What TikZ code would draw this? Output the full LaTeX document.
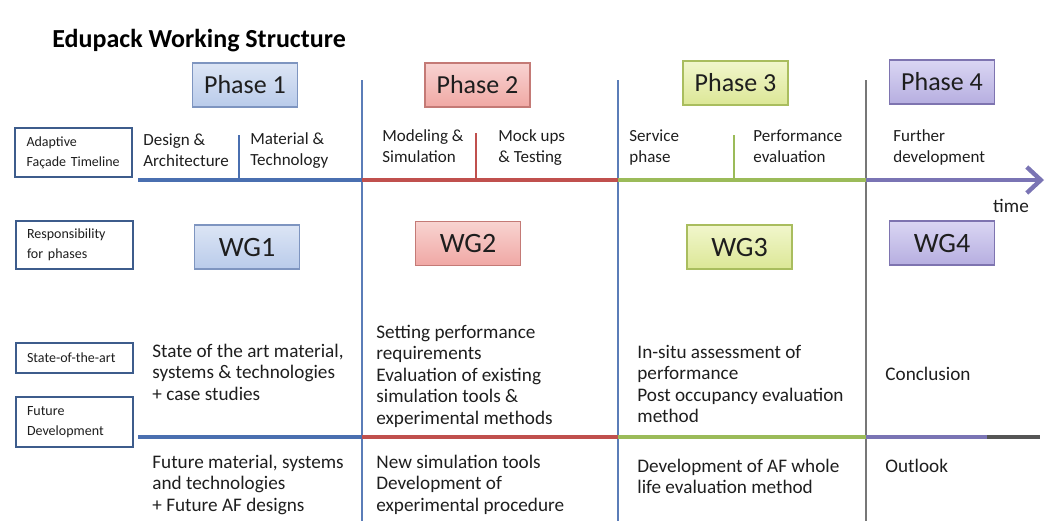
\documentclass[tikz,border=0pt]{standalone}
\usepackage{fontspec}
\setmainfont{Carlito}
\usetikzlibrary{arrows.meta,positioning}
\definecolor{edText}{HTML}{1E1E1E}
\definecolor{blueEdge}{HTML}{7E95C0}
\definecolor{blueTop}{HTML}{DCE5F5}
\definecolor{blueBot}{HTML}{B9CBEA}
\definecolor{redEdge}{HTML}{C47A76}
\definecolor{redTop}{HTML}{F8D3D1}
\definecolor{redBot}{HTML}{F0A8A4}
\definecolor{greenEdge}{HTML}{A9BD5E}
\definecolor{greenTop}{HTML}{F1F6CC}
\definecolor{greenBot}{HTML}{DCE796}
\definecolor{purpleEdge}{HTML}{7E74B0}
\definecolor{purpleTop}{HTML}{DAD6F3}
\definecolor{purpleBot}{HTML}{B6AEE0}
\definecolor{labelEdge}{HTML}{3D5C8C}
\definecolor{lineBlue}{HTML}{4A6FB0}
\definecolor{lineRed}{HTML}{C0504D}
\definecolor{lineGreen}{HTML}{9BBB59}
\definecolor{linePurple}{HTML}{7A74B4}
\definecolor{lineGray}{HTML}{555555}
\definecolor{sepBlue}{HTML}{5B7DB8}
\definecolor{sepGray}{HTML}{777777}

\begin{document}
\begin{tikzpicture}[x=0.5pt, y=-0.5pt,
  phase/.style={rectangle, draw=#1Edge, line width=0.75pt, top color=#1Top, bottom color=#1Bot, minimum width=52.5pt, minimum height=22pt, text=edText, font=\fontsize{13}{15}\selectfont},
  group/.style={phase=#1, font=\fontsize{14}{16}\selectfont},
  rowlabel/.style={rectangle, draw=labelEdge, line width=1pt, fill=white, text width=47pt, inner xsep=5.75pt, inner ysep=0pt, align=left, text=edText, font=\fontsize{7}{10}\selectfont},
  stage/.style={anchor=north west, inner sep=0pt, align=left, text=edText, font=\fontsize{8.5}{10.5}\selectfont},
  cell/.style={anchor=north west, inner sep=0pt, align=left, text=edText, font=\fontsize{9.6}{10.8}\selectfont},
  timeline/.style={line width=2.2pt},
  divider/.style={line width=0.8pt}
]
\useasboundingbox (0,0) rectangle (1047,521);

% title and phase boxes
\node[anchor=base west, inner sep=0pt, text=black, font=\fontsize{13}{15}\selectfont\bfseries] (title) at (52,47) {Edupack Working Structure};
\node[phase=blue] (ph1) at (245,85) {Phase 1};
\node[phase=red] (ph2) at (477.5,85) {Phase 2};
\node[phase=green] (ph3) at (735.5,83) {Phase 3};
\node[phase=purple] (ph4) at (942,82) {Phase 4};

% row labels
\node[rowlabel, minimum height=24.5pt] (lbTime) at (73.5,152.5) {Adaptive\\Façade Timeline};
\node[rowlabel, minimum height=24pt] (lbResp) at (74,245) {Responsibility\\for phases};
\node[rowlabel, minimum height=15pt] (lbState) at (74,358) {State-of-the-art};
\node[rowlabel, minimum height=25pt] (lbFuture) at (74,422) {Future\\Development};

% column separators
\coordinate (sep1) at (362,80);
\coordinate (sep2) at (618,80);
\coordinate (sep3) at (866,80);
\draw[divider, sepBlue] (sep1) -- (sep1 |- 0,521);
\draw[divider, sepBlue] (sep2) -- (sep2 |- 0,521);
\draw[divider, sepGray] (sep3) -- (sep3 |- 0,521);

% timeline
\coordinate (tl0) at (138,180);
\coordinate (tl1) at (362,180);
\coordinate (tl2) at (618,180);
\coordinate (tl3) at (866,180);
\coordinate (tl4) at (1044,180);
\draw[timeline, lineBlue] (tl0) -- (tl1);
\draw[timeline, lineRed] (tl1) -- (tl2);
\draw[timeline, lineGreen] (tl2) -- (tl3);
\draw[timeline, linePurple, -{Straight Barb[length=7pt, width=13pt]}] (tl3) -- (tl4);
\coordinate (tk1) at (239,135);
\coordinate (tk2) at (476,133);
\coordinate (tk3) at (734,135);
\draw[divider, lineBlue] (tk1) -- (tk1 |- tl0);
\draw[divider, lineRed] (tk2) -- (tk2 |- tl0);
\draw[divider, lineGreen] (tk3) -- (tk3 |- tl0);

\node[stage] (stDesign) at (143,133) {Design \&\\Architecture};
\node[stage] (stMaterial) at (250,132) {Material \&\\Technology};
\node[stage] (stModel) at (382,129) {Modeling \&\\Simulation};
\node[stage] (stMock) at (498,129) {Mock ups\\\& Testing};
\node[stage] (stService) at (629,129) {Service\\phase};
\node[stage] (stPerf) at (753,129) {Performance\\evaluation};
\node[stage] (stFurther) at (893,129) {Further\\development};
\node[text=edText, font=\fontsize{9.6}{11}\selectfont] (timeLbl) at (1011,206) {time};

% working groups
\node[group=blue] (wg1) at (247,247) {WG1};
\node[group=red] (wg2) at (468,243.5) {WG2};
\node[group=green] (wg3) at (739.5,247) {WG3};
\node[group=purple] (wg4) at (942,243) {WG4};

% state of the art
\node[cell] (sa1) at (152,343.5) {State of the art material,\\systems \& technologies\\+ case studies};
\node[cell] (sa2) at (376,324.5) {Setting performance\\requirements\\Evaluation of existing\\simulation tools \&\\experimental methods};
\node[cell] (sa3) at (637,344.5) {In-situ assessment of\\performance\\Post occupancy evaluation\\method};
\node[cell] (sa4) at (885,366.5) {Conclusion};

% lower line
\coordinate (bl0) at (138,437);
\coordinate (bl1) at (362,437);
\coordinate (bl2) at (618,437);
\coordinate (bl3) at (866,437);
\coordinate (bl4) at (987,437);
\coordinate (bl5) at (1040,437);
\draw[timeline, lineBlue] (bl0) -- (bl1);
\draw[timeline, lineRed] (bl1) -- (bl2);
\draw[timeline, lineGreen] (bl2) -- (bl3);
\draw[timeline, linePurple] (bl3) -- (bl4);
\draw[timeline, lineGray] (bl4) -- (bl5);

% future development
\node[cell] (fd1) at (152,454.5) {Future material, systems\\and technologies\\+ Future AF designs};
\node[cell] (fd2) at (376,454.5) {New simulation tools\\Development of\\experimental procedure};
\node[cell] (fd3) at (637,458.5) {Development of AF whole\\life evaluation method};
\node[cell] (fd4) at (885,458.5) {Outlook};
\end{tikzpicture}
\end{document}
